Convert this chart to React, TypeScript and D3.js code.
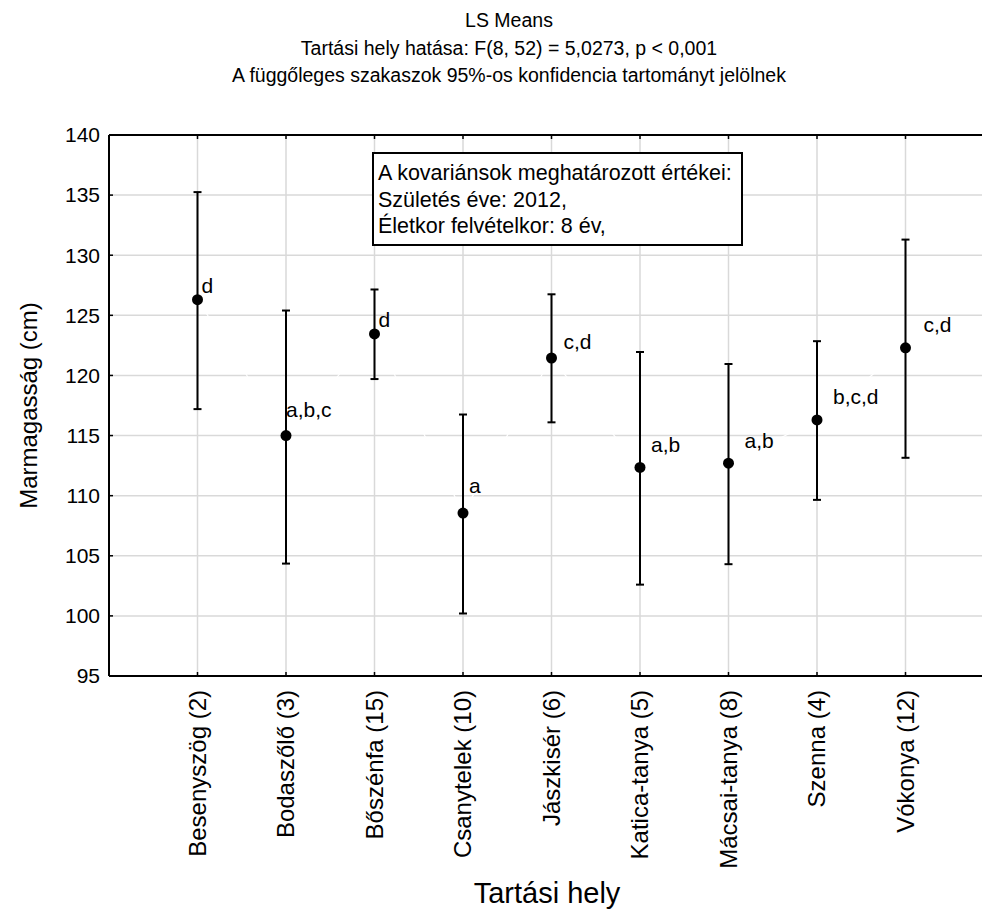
import React from "react";
import * as d3 from "d3";

// LS means of body height by keeping place, with 95% CI
const places = [
  "Besenyszög (2)",
  "Bodaszőlő (3)",
  "Bőszénfa (15)",
  "Csanytelek (10)",
  "Jászkisér (6)",
  "Katica-tanya (5)",
  "Mácsai-tanya (8)",
  "Szenna (4)",
  "Vókonya (12)",
];
const means = [126.3, 115.0, 123.45, 108.55, 121.45, 112.35, 112.7, 116.3, 122.3];
const lower = [117.2, 104.35, 119.7, 100.2, 116.1, 102.6, 104.3, 109.65, 113.15];
const upper = [135.25, 125.4, 127.15, 116.75, 126.75, 121.95, 120.95, 122.85, 131.3];
const groups = ["d", "a,b,c", "d", "a", "c,d", "a,b", "a,b", "b,c,d", "c,d"];
const yTicks = [95, 100, 105, 110, 115, 120, 125, 130, 135, 140];

const titleLines = [
  "LS Means",
  "Tartási hely hatása: F(8, 52) = 5,0273, p < 0,001",
  "A függőleges szakaszok 95%-os konfidencia tartományt jelölnek",
];
const covariateLines = [
  "A kovariánsok meghatározott értékei:",
  "Születés éve: 2012,",
  "Életkor felvételkor: 8 év,",
];

const W = 982;
const H = 912;
const left = 109;
const right = 994;
const top = 135;
const bottom = 676;
const font = "Liberation Sans, Arial, sans-serif";

// where the group letters sit relative to each mean (px)
const labelOffsets = [
  [4, -7], [0, -19], [4, -7], [6, -20], [12, -9],
  [11, -15], [16, -15], [16, -16], [18, -16],
];

export default function App() {
  const x = d3.scalePoint<string>().domain(places).range([left, right]).padding(1);
  const y = d3.scaleLinear().domain([95, 140]).range([bottom, top]);

  const meanLine = d3
    .line<number>()
    .x((_, i) => x(places[i]) as number)
    .y((d) => y(d));

  return (
    <svg width={W} height={H} style={{ display: "block", position: "absolute", left: 0, top: 0 }} fontFamily={font}>
      <rect width={W} height={H} fill="#fff" />

      {titleLines.map((t, i) => (
        <text key={t} x={509} y={27 + i * 27.5} textAnchor="middle" fontSize={19.5}>
          {t}
        </text>
      ))}

      {/* grid */}
      {yTicks.slice(1, -1).map((t) => (
        <line key={"gy" + t} x1={left} x2={W} y1={y(t)} y2={y(t)} stroke="#d9d9d9" strokeWidth={1.5} />
      ))}
      {places.map((p) => (
        <line key={"gx" + p} x1={x(p)} x2={x(p)} y1={top} y2={bottom} stroke="#d9d9d9" strokeWidth={1.5} />
      ))}

      {/* faint white line joining the means */}
      <path d={meanLine(means) || ""} fill="none" stroke="#fff" strokeWidth={1.2} />

      {/* frame */}
      <line x1={left} x2={W} y1={top} y2={top} stroke="#000" strokeWidth={2} />
      <line x1={left} x2={W} y1={bottom} y2={bottom} stroke="#000" strokeWidth={2} />
      <line x1={left} x2={left} y1={top} y2={bottom} stroke="#000" strokeWidth={2} />

      {/* y ticks */}
      {yTicks.map((t) => (
        <g key={"yt" + t}>
          <line x1={left} x2={left + 4} y1={y(t)} y2={y(t)} stroke="#000" strokeWidth={1.5} />
          <text x={100} y={y(t)} dy="0.35em" textAnchor="end" fontSize={21}>
            {t}
          </text>
        </g>
      ))}

      {/* x ticks */}
      {places.map((p) => (
        <g key={"xt" + p}>
          <line x1={x(p)} x2={x(p)} y1={bottom} y2={bottom - 4} stroke="#000" strokeWidth={1.5} />
          <line x1={x(p)} x2={x(p)} y1={top} y2={top + 4} stroke="#000" strokeWidth={1.5} />
          <text
            transform={`translate(${x(p)},${bottom + 14}) rotate(-90)`}
            dy="0.35em"
            textAnchor="end"
            fontSize={24}
          >
            {p}
          </text>
        </g>
      ))}

      {/* error bars and means */}
      {places.map((p, i) => {
        const cx = x(p) as number;
        return (
          <g key={"m" + p}>
            <line x1={cx} x2={cx} y1={y(upper[i])} y2={y(lower[i])} stroke="#000" strokeWidth={2} />
            <line x1={cx - 4} x2={cx + 4} y1={y(upper[i])} y2={y(upper[i])} stroke="#000" strokeWidth={2} />
            <line x1={cx - 4} x2={cx + 4} y1={y(lower[i])} y2={y(lower[i])} stroke="#000" strokeWidth={2} />
            <circle cx={cx} cy={y(means[i])} r={5.5} fill="#000" />
            <text x={cx + labelOffsets[i][0]} y={y(means[i]) + labelOffsets[i][1]} fontSize={21}>
              {groups[i]}
            </text>
          </g>
        );
      })}

      {/* covariate box */}
      <rect x={373} y={153} width={369} height={92} fill="#fff" stroke="#000" strokeWidth={2} />
      {covariateLines.map((t, i) => (
        <text key={t} x={378} y={180} dy={i * 26.5} fontSize={21.5}>
          {t}
        </text>
      ))}

      {/* axis titles */}
      <text transform={`translate(29,${(top + bottom) / 2}) rotate(-90)`} dy="0.35em" textAnchor="middle" fontSize={24}>
        Marmagasság (cm)
      </text>
      <text x={547} y={903} textAnchor="middle" fontSize={29}>
        Tartási hely
      </text>
    </svg>
  );
}
